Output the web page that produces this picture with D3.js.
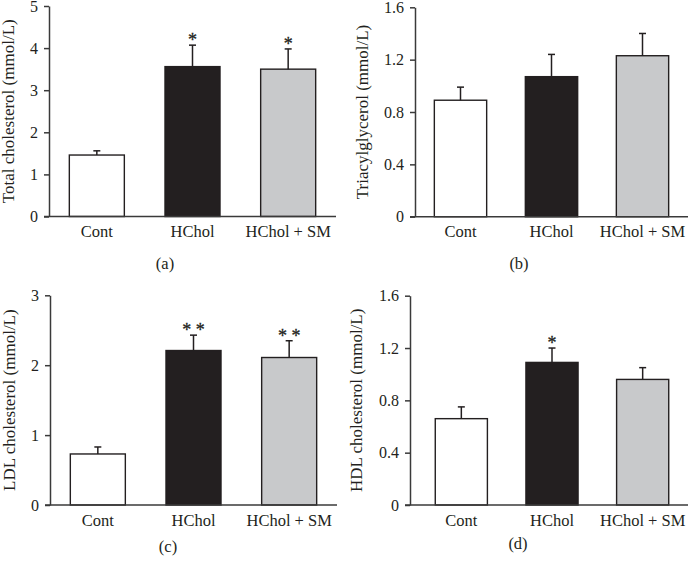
<!DOCTYPE html>
<html>
<head>
<meta charset="utf-8">
<script src="https://cdn.jsdelivr.net/npm/d3@7"></script>
<style>
  html, body { margin: 0; padding: 0; background: #fff; }
  svg { display: block; }
  text { font-family: "Liberation Serif", "DejaVu Serif", serif; fill: #231f20; }
</style>
</head>
<body>
<svg id="chart" width="688" height="576"></svg>
<script>
// ---------- data ----------
const categories = ["Cont", "HChol", "HChol + SM"];

const tcMean  = [1.46, 3.56, 3.50];
const tcErr   = [0.10, 0.51, 0.48];
const tcSig   = ["", "*", "*"];
const tcTicks = [0, 1, 2, 3, 4, 5];
const tcTickLabels = ["0", "1", "2", "3", "4", "5"];

const tgMean  = [0.89, 1.07, 1.23];
const tgErr   = [0.10, 0.17, 0.17];
const tgSig   = ["", "", ""];
const tgTicks = [0, 0.4, 0.8, 1.2, 1.6];
const tgTickLabels = ["0", "0.4", "0.8", "1.2", "1.6"];

const ldlMean  = [0.73, 2.21, 2.11];
const ldlErr   = [0.10, 0.22, 0.24];
const ldlSig   = ["", "* *", "* *"];
const ldlTicks = [0, 1, 2, 3];
const ldlTickLabels = ["0", "1", "2", "3"];

const hdlMean  = [0.66, 1.09, 0.96];
const hdlErr   = [0.09, 0.11, 0.09];
const hdlSig   = ["", "*", ""];
const hdlTicks = [0, 0.4, 0.8, 1.2, 1.6];
const hdlTickLabels = ["0", "0.4", "0.8", "1.2", "1.6"];

const yTitles = ["Total cholesterol (mmol/L)", "Triacylglycerol (mmol/L)",
                 "LDL cholesterol (mmol/L)", "HDL cholesterol (mmol/L)"];
const panelLabels = ["(a)", "(b)", "(c)", "(d)"];
const barColors = ["#ffffff", "#231f20", "#c8c9cb"];

// ---------- layout ----------
const panels = [
  { mean: tcMean, err: tcErr, sig: tcSig, ticks: tcTicks, tickLabels: tcTickLabels,
    axisX: 49, yTop: 6, yBottom: 216.5, band: [49, 336], lineEnd: 336,
    titleX: 14, labelX: 165, labelY: 268.5 },
  { mean: tgMean, err: tgErr, sig: tgSig, ticks: tgTicks, tickLabels: tgTickLabels,
    axisX: 415, yTop: 7.3, yBottom: 216.7, band: [415, 688], lineEnd: 690,
    titleX: 368, labelX: 519, labelY: 268.5 },
  { mean: ldlMean, err: ldlErr, sig: ldlSig, ticks: ldlTicks, tickLabels: ldlTickLabels,
    axisX: 50, yTop: 295.3, yBottom: 505, band: [50, 337], lineEnd: 337,
    titleX: 14.5, labelX: 168, labelY: 552 },
  { mean: hdlMean, err: hdlErr, sig: hdlSig, ticks: hdlTicks, tickLabels: hdlTickLabels,
    axisX: 410, yTop: 295.7, yBottom: 505, band: [416, 688], lineEnd: 690,
    titleX: 362, labelX: 518, labelY: 549 }
];

const svg = d3.select("#chart");
const axisColor = "#3a3a3a";
const ink = "#231f20";

panels.forEach((p, i) => {
  const g = svg.append("g");
  const maxV = p.ticks[p.ticks.length - 1];
  const y = d3.scaleLinear().domain([0, maxV]).range([p.yBottom, p.yTop]);
  const pad = 0.425;
  const x = d3.scaleBand().domain(categories).range(p.band)
    .paddingInner(pad).paddingOuter(pad / 2);

  // bars
  g.selectAll("rect.bar").data(categories).enter().append("rect")
    .attr("class", "bar")
    .attr("x", d => x(d))
    .attr("width", x.bandwidth())
    .attr("y", (d, j) => y(p.mean[j]))
    .attr("height", (d, j) => y(0) - y(p.mean[j]))
    .attr("fill", (d, j) => barColors[j])
    .attr("stroke", ink)
    .attr("stroke-width", 1.4);

  // error bars (upper only)
  const eg = g.selectAll("g.err").data(categories).enter().append("g").attr("class", "err");
  eg.append("line")
    .attr("x1", d => x(d) + x.bandwidth() / 2)
    .attr("x2", d => x(d) + x.bandwidth() / 2)
    .attr("y1", (d, j) => y(p.mean[j]))
    .attr("y2", (d, j) => y(p.mean[j] + p.err[j]))
    .attr("stroke", ink).attr("stroke-width", 1.5);
  eg.append("line")
    .attr("x1", d => x(d) + x.bandwidth() / 2 - 3.5)
    .attr("x2", d => x(d) + x.bandwidth() / 2 + 3.5)
    .attr("y1", (d, j) => y(p.mean[j] + p.err[j]))
    .attr("y2", (d, j) => y(p.mean[j] + p.err[j]))
    .attr("stroke", ink).attr("stroke-width", 1.5);

  // significance stars
  g.selectAll("text.sig").data(categories).enter().append("text")
    .attr("class", "sig")
    .attr("x", d => x(d) + x.bandwidth() / 2)
    .attr("y", (d, j) => y(p.mean[j] + p.err[j]) + 1)
    .attr("text-anchor", "middle")
    .attr("font-size", 18)
    .attr("stroke", ink).attr("stroke-width", 0.3)
    .text((d, j) => p.sig[j]);

  // y axis
  const yAxis = d3.axisLeft(y).tickValues(p.ticks)
    .tickFormat((d, j) => p.tickLabels[j])
    .tickSize(5).tickSizeOuter(0).tickPadding(6);
  const ya = g.append("g").attr("transform", `translate(${p.axisX},0)`).call(yAxis);
  ya.select(".domain").attr("stroke", axisColor).attr("stroke-width", 1.5);
  ya.selectAll(".tick line").attr("stroke", axisColor).attr("stroke-width", 1.5);
  ya.selectAll(".tick text").attr("font-size", 16)
    .attr("font-family", "Liberation Serif, DejaVu Serif, serif").attr("fill", ink);

  // x axis line
  g.append("line")
    .attr("x1", p.axisX - 5).attr("x2", p.lineEnd)
    .attr("y1", y(0)).attr("y2", y(0))
    .attr("stroke", axisColor).attr("stroke-width", 1.5);

  // x axis labels
  const xAxis = d3.axisBottom(x).tickSize(0).tickPadding(9);
  const xa = g.append("g").attr("transform", `translate(0,${y(0)})`).call(xAxis);
  xa.select(".domain").remove();
  xa.selectAll(".tick text").attr("font-size", 16.5)
    .attr("font-family", "Liberation Serif, DejaVu Serif, serif").attr("fill", ink);

  // y title
  g.append("text")
    .attr("transform", `translate(${p.titleX},${(p.yTop + p.yBottom) / 2}) rotate(-90)`)
    .attr("text-anchor", "middle")
    .attr("font-size", 17)
    .text(yTitles[i]);

  // panel label
  g.append("text")
    .attr("x", p.labelX).attr("y", p.labelY)
    .attr("text-anchor", "middle")
    .attr("font-size", 16.5)
    .text(panelLabels[i]);
});
</script>
</body>
</html>
